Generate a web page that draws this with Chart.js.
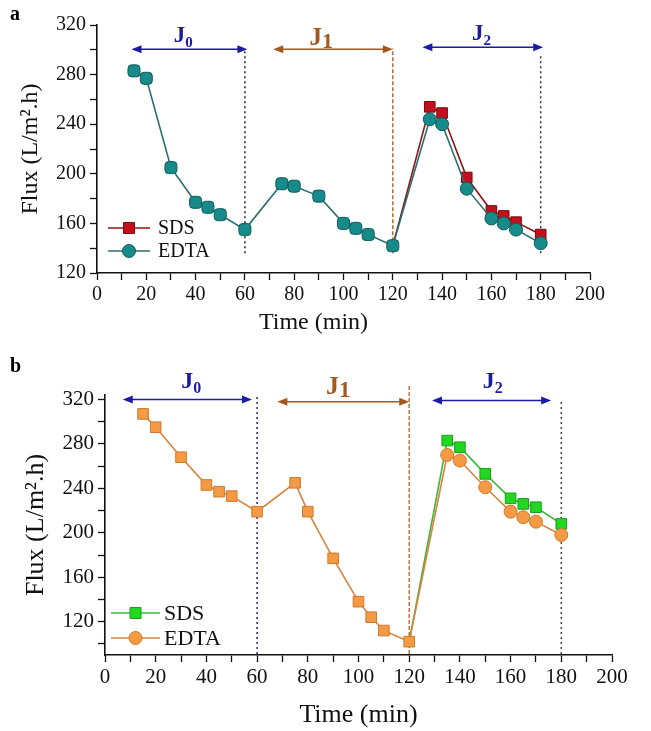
<!DOCTYPE html>
<html>
<head>
<meta charset="utf-8">
<script src="https://cdn.jsdelivr.net/npm/chart.js@4.4.1/dist/chart.umd.min.js"></script>
<style>
body { margin: 0; background: #fff; width: 651px; height: 731px; position: relative; overflow: hidden; }
.panel { position: absolute; left: 0; width: 651px; }
#wrapA { top: 0; height: 350px; }
#wrapB { top: 355px; height: 376px; }
.tag { position: absolute; left: 10px; font: bold 20px 'Liberation Serif', serif; }
</style>
</head>
<body>
<div class="panel" id="wrapA"><canvas id="chartA" width="651" height="350"></canvas></div>
<div class="panel" id="wrapB"><canvas id="chartB" width="651" height="376"></canvas></div>
<div class="tag" style="top:2px">a</div>
<div class="tag" style="top:354px">b</div>
<script>
// time axis (min)
const times = [15, 20, 30, 40, 45, 50, 60, 75, 80, 90, 100, 105, 110, 120, 135, 140, 150, 160, 165, 170, 180];

// panel a
const sdsA  = [null, null, null, null, null, null, null, null, null, null, null, null, null, 142, 254, 249, 197, 170, 166, 161, 151];
const edtaA = [283, 277, 205, 177, 173, 167, 155, 192, 190, 182, 160, 156, 151, 142, 244, 240, 188, 164, 160, 155, 144];

// panel b
const sdsB  = [null, null, null, null, null, null, null, null, null, null, null, null, null, 102, 283, 277, 253, 231, 226, 223, 208];
const edtaB = [307, 295, 268, 243, 237, 233, 219, 245, 219, 177, 138, 124, 112, 102, 270, 265, 241, 219, 214, 210, 198];

const xTicks = [0, 20, 40, 60, 80, 100, 120, 140, 160, 180, 200];
const yTicks = [120, 160, 200, 240, 280, 320];

const phaseNames = ['0', '1', '2'];
const boundaries = [60, 120, 180];

const firstJ2 = times.indexOf(135);
const serif = "'Liberation Serif', 'Times New Roman', serif";

function withMinors(majors, below) {
  const out = [];
  if (below) out.push(majors[0] - (majors[1] - majors[0]) / 2);
  majors.forEach((v, i) => {
    out.push(v);
    if (i < majors.length - 1) out.push((v + majors[i + 1]) / 2);
  });
  return out;
}

function pts(arr) {
  return times.map((t, i) => ({ x: t, y: arr[i] }));
}

function drawArrow(ctx, x1, x2, y, color) {
  const h = 10, w = 4;
  ctx.strokeStyle = color;
  ctx.fillStyle = color;
  ctx.lineWidth = 1.5;
  ctx.setLineDash([]);
  ctx.beginPath();
  ctx.moveTo(x1 + 4, y);
  ctx.lineTo(x2 - 4, y);
  ctx.stroke();
  ctx.beginPath();
  ctx.moveTo(x1, y); ctx.lineTo(x1 + h, y - w); ctx.lineTo(x1 + h, y + w); ctx.closePath();
  ctx.fill();
  ctx.beginPath();
  ctx.moveTo(x2, y); ctx.lineTo(x2 - h, y - w); ctx.lineTo(x2 - h, y + w); ctx.closePath();
  ctx.fill();
}

const phasePlugin = {
  id: 'phases',
  beforeDatasetsDraw(chart, args, opts) {
    const { ctx, scales: { x, y } } = chart;
    ctx.save();
    opts.vlines.forEach(v => {
      const px = x.getPixelForValue(v.x);
      ctx.beginPath();
      ctx.setLineDash(v.dash);
      ctx.strokeStyle = v.color;
      ctx.lineWidth = 1.5;
      ctx.moveTo(px, y.getPixelForValue(v.from));
      ctx.lineTo(px, y.getPixelForValue(v.to));
      ctx.stroke();
    });
    ctx.restore();
  },
  afterDatasetsDraw(chart, args, opts) {
    const { ctx, scales: { x, y } } = chart;
    ctx.save();
    opts.arrows.forEach(a => {
      drawArrow(ctx, x.getPixelForValue(a.from), x.getPixelForValue(a.to), y.getPixelForValue(a.y), a.color);
    });
    opts.labels.forEach(l => {
      const jFont = 'bold ' + l.size + 'px ' + serif;
      const sFont = 'bold ' + l.subSize + 'px ' + serif;
      ctx.font = jFont;
      const wJ = ctx.measureText('J').width;
      ctx.font = sFont;
      const wS = ctx.measureText(l.sub).width;
      const cx = x.getPixelForValue(l.x);
      const by = y.getPixelForValue(l.y);
      const left = cx - (wJ + wS) / 2;
      ctx.fillStyle = l.color;
      ctx.textBaseline = 'alphabetic';
      ctx.textAlign = 'left';
      ctx.font = jFont;
      ctx.fillText('J', left, by);
      ctx.font = sFont;
      ctx.fillText(l.sub, left + wJ, by + l.drop);
    });
    // legend
    const lg = opts.legend;
    lg.rows.forEach(r => {
      const ds = chart.data.datasets[r.index];
      ctx.setLineDash([]);
      ctx.strokeStyle = ds.borderColor;
      ctx.lineWidth = 1.6;
      ctx.beginPath();
      ctx.moveTo(lg.x1, r.y);
      ctx.lineTo(lg.x2, r.y);
      ctx.stroke();
      ctx.fillStyle = ds.pointBackgroundColor;
      ctx.strokeStyle = ds.pointBorderColor;
      ctx.lineWidth = 1;
      const mx = (lg.x1 + lg.x2) / 2;
      ctx.beginPath();
      if (r.shape === 'rect') {
        ctx.rect(mx - 5.5, r.y - 5.5, 11, 11);
      } else {
        ctx.arc(mx, r.y, 6.5, 0, Math.PI * 2);
      }
      ctx.fill();
      ctx.stroke();
      ctx.fillStyle = '#111';
      ctx.font = lg.fontSize + 'px ' + serif;
      ctx.textBaseline = 'middle';
      ctx.textAlign = 'left';
      ctx.fillText(ds.label, lg.textX, r.y + 1);
    });
    ctx.restore();
  }
};

function makeChart(id, cfg) {
  const edtaStyle = ctx => ctx.dataIndex < firstJ2 ? cfg.firstShape : 'circle';
  const edtaRadius = ctx => ctx.dataIndex < firstJ2 ? cfg.firstRadius : 6.5;
  const sdsRadius = ctx => ctx.dataIndex < firstJ2 ? 0 : 7.5;
  return new Chart(document.getElementById(id), {
    type: 'line',
    data: {
      datasets: [
        {
          label: 'EDTA',
          data: pts(cfg.edta),
          borderColor: cfg.edtaLine,
          pointBackgroundColor: cfg.edtaFill,
          pointBorderColor: cfg.edtaEdge,
          borderWidth: 1.6,
          pointBorderWidth: 1,
          pointStyle: edtaStyle,
          pointRadius: edtaRadius,
          tension: 0
        },
        {
          label: 'SDS',
          data: pts(cfg.sds),
          borderColor: cfg.sdsLine,
          pointBackgroundColor: cfg.sdsFill,
          pointBorderColor: cfg.sdsEdge,
          borderWidth: 1.6,
          pointBorderWidth: 1,
          pointStyle: 'rect',
          pointRadius: sdsRadius,
          tension: 0,
          spanGaps: false
        }
      ]
    },
    options: {
      responsive: false,
      animation: false,
      events: [],
      layout: { padding: cfg.padding },
      plugins: {
        legend: { display: false },
        tooltip: { enabled: false },
        phases: cfg.phases
      },
      scales: {
        x: {
          type: 'linear',
          min: 0,
          max: 200,
          afterBuildTicks: s => { s.ticks = withMinors(xTicks, false).map(v => ({ value: v })); },
          afterFit: s => { s.height = cfg.xHeight; },
          ticks: {
            color: '#111',
            font: { family: serif, size: cfg.tickSize },
            padding: 3,
            maxRotation: 0,
            autoSkip: false,
            callback: v => xTicks.includes(v) ? String(v) : ''
          },
          grid: { drawOnChartArea: false, color: '#111', tickLength: 7, tickWidth: 1.3 },
          border: { color: '#111', width: 1.6 },
          title: {
            display: true,
            text: cfg.xTitle,
            color: '#111',
            font: { family: serif, size: cfg.titleSize },
            padding: { top: 0, bottom: cfg.xTitlePad }
          }
        },
        y: {
          min: cfg.yMin,
          max: cfg.yMax,
          afterBuildTicks: s => { s.ticks = withMinors(yTicks, cfg.minorBelow).map(v => ({ value: v })); },
          afterFit: s => { s.width = cfg.yWidth; },
          ticks: {
            color: '#111',
            font: { family: serif, size: cfg.tickSize },
            padding: 4,
            autoSkip: false,
            callback: v => yTicks.includes(v) ? String(v) : ''
          },
          grid: { drawOnChartArea: false, color: '#111', tickLength: 7, tickWidth: 1.3 },
          border: { color: '#111', width: 1.6 },
          title: {
            display: true,
            text: 'Flux (L/m\u00B2.h)',
            color: '#111',
            font: { family: serif, size: cfg.titleSize },
            padding: { top: cfg.yTitlePad, bottom: 0 }
          }
        }
      }
    },
    plugins: [phasePlugin]
  });
}

const blue = '#1b1ba6', brown = '#a3581f';

makeChart('chartA', {
  sds: sdsA, edta: edtaA,
  sdsLine: '#8e1414', sdsFill: '#c4101c', sdsEdge: '#7a0a0a',
  edtaLine: '#2a6f6f', edtaFill: '#178a8a', edtaEdge: '#0f5c5c',
  firstShape: 'rectRounded', firstRadius: 7,
  yMin: 120, yMax: 320, minorBelow: false,
  padding: { top: 25, right: 61, bottom: 0, left: 0 },
  xHeight: 77, yWidth: 97,
  tickSize: 20, titleSize: 24, xTitlePad: 13, yTitlePad: 16,
  xTitle: 'Time (min)\u2007\u2007\u2007\u2007\u2007',
  phases: {
    vlines: [
      { x: boundaries[0], from: 136, to: 301, color: '#222', dash: [2, 3] },
      { x: boundaries[1], from: 136, to: 301, color: '#b0702e', dash: [4, 2] },
      { x: boundaries[2], from: 136, to: 295, color: '#2a2a55', dash: [2, 3] }
    ],
    arrows: [
      { from: 14, to: 61, y: 300.5, color: blue },
      { from: 71.5, to: 120, y: 300.5, color: brown },
      { from: 132, to: 181, y: 302, color: blue }
    ],
    labels: [
      { x: 35, y: 306, sub: phaseNames[0], size: 23, subSize: 15, drop: 5, color: blue },
      { x: 91, y: 304, sub: phaseNames[1], size: 25, subSize: 22, drop: 3, color: brown },
      { x: 156, y: 308, sub: phaseNames[2], size: 23, subSize: 15, drop: 5, color: blue }
    ],
    legend: {
      x1: 108, x2: 150, textX: 158, fontSize: 20,
      rows: [{ index: 1, y: 228, shape: 'rect' }, { index: 0, y: 251, shape: 'circle' }]
    }
  }
});

makeChart('chartB', {
  sds: sdsB, edta: edtaB,
  sdsLine: '#3cb83c', sdsFill: '#22d622', sdsEdge: '#1aa01a',
  edtaLine: '#d9833a', edtaFill: '#f49a44', edtaEdge: '#cf7a2c',
  firstShape: 'rect', firstRadius: 7.5,
  yMin: 90, yMax: 324, minorBelow: true,
  padding: { top: 40, right: 39, bottom: 0, left: 0 },
  xHeight: 76, yWidth: 105,
  tickSize: 21, titleSize: 26, xTitlePad: 0, yTitlePad: 21,
  xTitle: 'Time (min)',
  phases: {
    vlines: [
      { x: boundaries[0], from: 91, to: 324, color: '#2b2b6e', dash: [2, 3] },
      { x: boundaries[1], from: 91, to: 334, color: '#c0743e', dash: [4, 2] },
      { x: boundaries[2], from: 91, to: 320, color: '#444', dash: [2, 3] }
    ],
    arrows: [
      { from: 7, to: 58, y: 320, color: blue },
      { from: 68, to: 120, y: 318, color: brown },
      { from: 129, to: 176, y: 319, color: blue }
    ],
    labels: [
      { x: 34, y: 330, sub: phaseNames[0], size: 24, subSize: 16, drop: 5, color: blue },
      { x: 92, y: 325, sub: phaseNames[1], size: 26, subSize: 23, drop: 3, color: brown },
      { x: 153, y: 330, sub: phaseNames[2], size: 24, subSize: 16, drop: 5, color: blue }
    ],
    legend: {
      x1: 111, x2: 160, textX: 164, fontSize: 22,
      rows: [{ index: 1, y: 258, shape: 'rect' }, { index: 0, y: 283, shape: 'circle' }]
    }
  }
});
</script>
</body>
</html>
